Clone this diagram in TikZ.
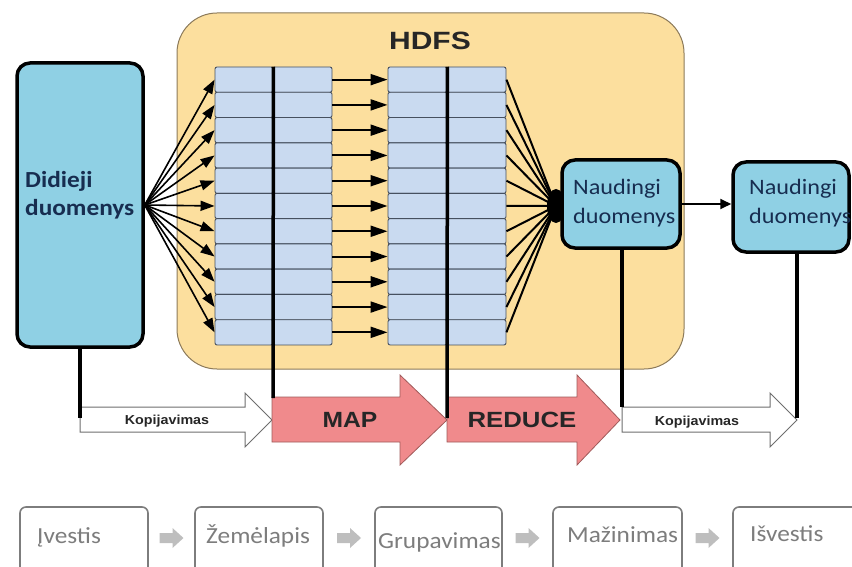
\documentclass[tikz,border=0pt]{standalone}
\usepackage{fontspec}
\setmainfont{Carlito}
\newfontfamily\headfont{Liberation Sans}
\usetikzlibrary{arrows.meta,calc}

\definecolor{hdfsfill}{RGB}{252,223,158}
\definecolor{hdfsline}{RGB}{140,122,90}
\definecolor{datafill}{RGB}{143,208,228}
\definecolor{navy}{RGB}{23,45,80}
\definecolor{cellfill}{RGB}{201,218,240}
\definecolor{cellline}{RGB}{70,80,95}
\definecolor{pinkfill}{RGB}{240,138,140}
\definecolor{pinkline}{RGB}{160,90,90}
\definecolor{copyline}{RGB}{110,110,110}
\definecolor{stepgray}{RGB}{125,125,125}
\definecolor{flowgray}{RGB}{190,190,190}

% horizontally widened text
\newcommand\widetext[2]{\scalebox{#1}[1]{#2}}

\tikzset{
  cell/.style={draw=cellline, fill=cellfill, line width=0.9pt, rounded corners=2pt,
               minimum height=25.27pt, inner sep=0pt},
  databox/.style={draw=black, fill=datafill, line width=3.5pt, rounded corners=13pt, inner sep=0pt},
  spine/.style={line width=3.5pt, black},
  fanarrow/.style={line width=1.6pt, -{Triangle[length=14pt,width=10pt]}},
  passarrow/.style={line width=2pt, -{Triangle[length=17pt,width=11pt]}},
  fanline/.style={line width=2pt},
  copyarrow/.style={draw=copyline, fill=white, line width=1pt},
  phasearrow/.style={draw=pinkline, fill=pinkfill, line width=0.8pt},
  copylabel/.style={font=\headfont\bfseries\fontsize{13}{13}\selectfont, text=black!85},
  phaselabel/.style={font=\headfont\bfseries\fontsize{22}{22}\selectfont, text=black!85},
  bigtext/.style={anchor=base west, inner sep=0pt, text=navy, font=\bfseries\fontsize{23}{23}\selectfont},
  usetext/.style={anchor=base west, inner sep=0pt, text=navy, font=\fontsize{22}{22}\selectfont},
  stepbox/.style={draw=stepgray, line width=1.6pt, rounded corners=6pt, fill=white,
                  minimum height=68pt, inner sep=0pt},
  steptext/.style={anchor=base west, inner sep=0pt, text=stepgray, font=\fontsize{23}{23}\selectfont},
  flowarrow/.style={fill=flowgray},
}

\begin{document}
\begin{tikzpicture}[x=1pt,y=-1pt]
\useasboundingbox (0,0) rectangle (852,567);
\clip (0,0) rectangle (852,567);

% HDFS container
\draw[hdfsline, fill=hdfsfill, line width=1pt, rounded corners=40pt] (177,13) rectangle (684,369);
\node[font=\headfont\bfseries\fontsize{25}{25}\selectfont, text=black!85] (hdfs) at (430,41) {\widetext{1.2}{HDFS}};

% the two block grids
\foreach \i in {0,...,10}{
  \pgfmathsetmacro\yc{67+(\i+0.5)*25.27}
  \node[cell, minimum width=58pt] (g1l-\i) at (244,\yc) {};
  \node[cell, minimum width=59pt] (g1r-\i) at (302.5,\yc) {};
  \node[cell, minimum width=59pt] (g2l-\i) at (417.5,\yc) {};
  \node[cell, minimum width=59pt] (g2r-\i) at (476.5,\yc) {};
}

% big input data
\node[databox, minimum width=126pt, minimum height=284pt] (big) at (80,205) {};
\node[bigtext] (bigA) at (25,188) {\widetext{1.1}{Didieji}};
\node[bigtext] (bigB) at (25,215) {\widetext{1.1}{duomenys}};

% convergence point of the reduce outputs
\coordinate (hub) at (556,206);
\fill (hub) ellipse [x radius=9pt, y radius=17pt];

% useful data boxes
\node[databox, minimum width=118pt, minimum height=88pt] (n1) at (621,204) {};
\node[usetext] (n1A) at (573,195) {\widetext{1.1}{Naudingi}};
\node[usetext] (n1B) at (573,223) {\widetext{1.1}{duomenys}};
\node[databox, minimum width=116pt, minimum height=90pt] (n2) at (791,207) {};
\node[usetext] (n2A) at (749,195) {\widetext{1.1}{Naudingi}};
\node[usetext] (n2B) at (749,223) {\widetext{1.1}{duomenys}};

% fans and pass-through arrows
\foreach \i in {0,...,10}{
  \draw[fanarrow] (big.east) -- (g1l-\i.west);
  \draw[passarrow] (g1r-\i.east) -- (g2l-\i.west);
  \draw[fanline] (g2r-\i.east) -- (hub);
}
\draw[line width=1.8pt, -{Triangle[length=11pt,width=10pt]}] (n1.east) -- (n1.east -| n2.west);

% process band
\draw[copyarrow] (80,407) -- (245,407) -- (245,393) -- (272,420) -- (245,447) -- (245,432) -- (80,432) -- cycle;
\draw[phasearrow] (272,397) -- (400,397) -- (400,375) -- (447,420) -- (400,465) -- (400,442) -- (272,442) -- cycle;
\draw[phasearrow] (447,397) -- (577,397) -- (577,375) -- (620,420) -- (577,465) -- (577,442) -- (447,442) -- cycle;
\draw[copyarrow] (622,407) -- (770,407) -- (770,393) -- (797,420) -- (770,447) -- (770,432) -- (622,432) -- cycle;
\node[copylabel] (cp1) at (167,421) {\widetext{1.1}{Kopijavimas}};
\node[phaselabel] (map) at (350,420) {\widetext{1.12}{MAP}};
\node[phaselabel] (red) at (522,420) {\widetext{1.17}{REDUCE}};
\node[copylabel] (cp2) at (697,422) {\widetext{1.1}{Kopijavimas}};

% drop lines into the band
\coordinate (k0) at (80,418);
\coordinate (k1) at (273,398);
\coordinate (k2) at (447,418);
\coordinate (k3) at (622,407);
\coordinate (k4) at (797,418);
\draw[spine] (big.south) -- (k0);
\draw[spine] (g1l-0.north east) -- (k1);
\draw[spine] (g2l-0.north east) -- (k2);
\draw[spine] (k3 |- n1.south) -- (k3);
\draw[spine] (k4 |- n2.south) -- (k4);

% pipeline steps
\node[stepbox, minimum width=128pt] (s1) at (84,541) {};
\node[stepbox, minimum width=128pt] (s2) at (259,541) {};
\node[stepbox, minimum width=127pt] (s3) at (438.5,541) {};
\node[stepbox, minimum width=129pt] (s4) at (617.5,541) {};
\node[stepbox, minimum width=129pt] (s5) at (797.5,541) {};
\node[steptext] (t1) at (37,543) {\widetext{1.1}{Įvestis}};
\node[steptext] (t2) at (206,543) {\widetext{1.1}{Žemėlapis}};
\node[steptext] (t3) at (378,548) {\widetext{1.1}{Grupavimas}};
\node[steptext] (t4) at (567,542) {\widetext{1.1}{Mažinimas}};
\node[steptext] (t5) at (750,541) {\widetext{1.1}{Išvestis}};
% grey block arrows centred in the gaps between steps
\foreach \a/\b in {s1/s2, s2/s3, s3/s4, s4/s5}{
  \coordinate (m) at ($(\a.east)!0.5!(\b.west)+(0,-3)$);
  \fill[flowarrow] (m) ++(-12,-5) -- ++(13,0) -- ++(0,-5) -- ++(11,10)
                   -- ++(-11,10) -- ++(0,-5) -- ++(-13,0) -- cycle;
}
\end{tikzpicture}
\end{document}
